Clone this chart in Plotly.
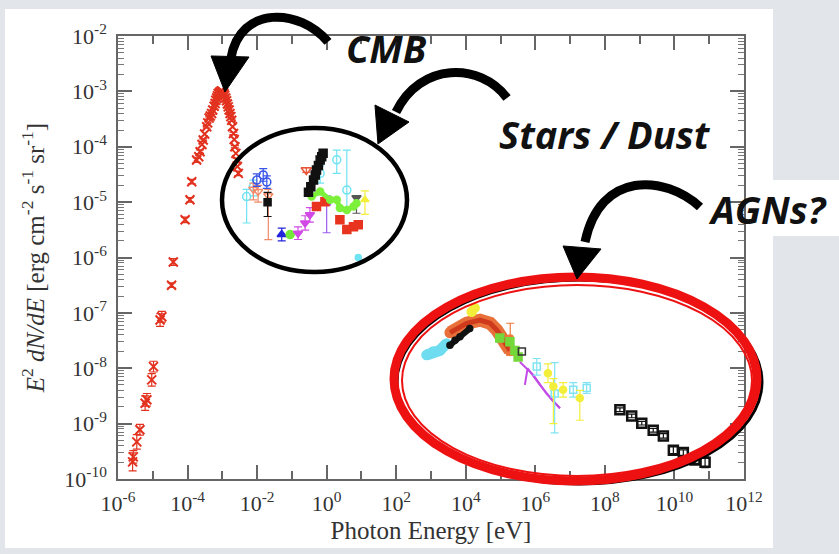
import numpy as np
import plotly.graph_objects as go

# ---------------- data: E (eV) and E^2 dN/dE (erg cm^-2 s^-1 sr^-1) ----------------
# Cosmic microwave background
cmb_E = [2.63e-6, 2.75e-6, 3.47e-6, 4.27e-6, 6.03e-6, 6.76e-6, 9.33e-6, 1.05e-5, 1.62e-5,
         1.82e-5, 3.47e-5, 3.89e-5, 8.51e-5, 1.17e-4, 1.32e-4, 1.82e-4, 2.29e-4, 2.82e-4,
         3.55e-4, 4.17e-4, 4.90e-4, 6.17e-4, 6.92e-4, 7.59e-4, 8.51e-4, 9.55e-4, 1.07e-3,
         1.17e-3, 1.32e-3, 1.48e-3, 1.66e-3, 1.86e-3, 2.09e-3, 2.29e-3, 2.57e-3, 2.88e-3]
cmb_F = [2.04e-10, 2.51e-10, 4.68e-10, 7.76e-10, 2.34e-9, 2.69e-9, 6.17e-9, 1.07e-8, 7.41e-8,
         8.51e-8, 3.16e-7, 8.32e-7, 4.79e-6, 1.10e-5, 2.34e-5, 5.75e-5, 8.13e-5, 1.32e-4,
         2.29e-4, 3.31e-4, 3.98e-4, 6.03e-4, 7.59e-4, 9.12e-4, 9.77e-4, 1.02e-3, 9.55e-4,
         8.51e-4, 6.76e-4, 5.25e-4, 3.98e-4, 3.02e-4, 1.74e-4, 1.00e-4, 5.75e-5, 3.31e-5]
cmb_rel_err = [0.45, 0.3, 0.35, 0.25, 0.35, 0.3, 0.3, 0.25, 0.3, 0.25, 0.1, 0.15, 0.12, 0.1,
               0.1, 0.1, 0.08, 0.05, 0.05, 0.05, 0.05, 0.05, 0.05, 0.05, 0.05, 0.05, 0.05,
               0.05, 0.05, 0.05, 0.05, 0.05, 0.05, 0.05, 0.08, 0.1]
# densely sampled spectrum around the peak
cmb_peak_E = [2.1e-4, 2.6e-4, 3.1e-4, 3.8e-4, 4.5e-4, 5.3e-4, 5.8e-4, 6.5e-4, 7.2e-4, 8.0e-4,
              9.0e-4, 1.0e-3, 1.12e-3, 1.25e-3, 1.4e-3, 1.57e-3, 1.76e-3, 1.97e-3, 2.2e-3,
              2.45e-3, 2.7e-3]
cmb_peak_F = [6.6e-5, 1.1e-4, 1.7e-4, 2.7e-4, 3.6e-4, 4.6e-4, 5.4e-4, 6.9e-4, 8.3e-4, 9.3e-4,
              1.0e-3, 9.9e-4, 9.1e-4, 7.6e-4, 5.9e-4, 4.6e-4, 3.5e-4, 2.3e-4, 1.35e-4,
              7.6e-5, 4.4e-5]

# Cosmic infrared / optical background
cib_blue_E, cib_blue_F = [9.8e-3, 1.5e-2, 1.9e-2], [2.5e-5, 3.1e-5, 2.3e-5]
cib_cyan_E, cib_cyan_F = [5.0e-3, 7.8e-3], [1.26e-5, 1.9e-5]
cib_cyan_lo, cib_cyan_hi = [4.2e-6, 1.3e-5], [1.7e-5, 2.5e-5]
cib_salmon_E, cib_salmon_F = [7.8e-3, 1.07e-2, 2.1e-2], [1.7e-5, 1.55e-5, 1.3e-5]
cib_salmon_lo, cib_salmon_hi = [1.1e-5, 1.0e-5, 2.1e-6], [2.2e-5, 2.0e-5, 1.7e-5]
cib_sq_E, cib_sq_F = [2.0e-2], [1.0e-5]
cib_sq_lo, cib_sq_hi = [5.5e-6], [1.5e-5]
mir_tri_E, mir_tri_F = [5.1e-2], [2.6e-6]
mir_circ_E, mir_circ_F = [8.9e-2], [2.6e-6]
nir_mag_E, nir_mag_F = [0.15, 0.24, 0.33], [2.75e-6, 4.2e-6, 5.9e-6]
nir_red_E, nir_red_F = [0.26], [3.8e-5]
nir_black_E = [0.30, 0.35, 0.42, 0.47, 0.51, 0.58, 0.65, 0.72, 0.79]
nir_black_F = [1.5e-5, 1.9e-5, 2.5e-5, 3.1e-5, 3.8e-5, 4.6e-5, 5.75e-5, 6.6e-5, 7.6e-5]
opt_cyan_E, opt_cyan_F = [0.65, 1.95, 3.8], [3.3e-5, 5.8e-5, 1.65e-5]
opt_cyan_lo, opt_cyan_hi = [2.2e-5, 3.3e-5, 8.0e-6], [4.5e-5, 8.7e-5, 8.7e-5]
opt_green_E = [0.37, 0.65, 1.26, 1.95, 2.4, 3.8, 5.9, 7.2]
opt_green_F = [1.26e-5, 1.55e-5, 1.1e-5, 1.1e-5, 7.8e-6, 7.2e-6, 8.3e-6, 9.5e-6]
opt_red_E = [0.51, 0.89, 2.4, 3.8, 5.9, 8.1]
opt_red_F = [8.3e-6, 1.02e-5, 4.8e-6, 3.2e-6, 3.6e-6, 3.9e-6]
opt_violet_E, opt_violet_F = [1.0], [9.5e-6]
opt_violet_lo, opt_violet_hi = [2.8e-6], [1.3e-5]
uv_yellow_E, uv_yellow_F = [12.6], [1.1e-5]
uv_yellow_lo, uv_yellow_hi = [6.0e-6], [1.6e-5]
uv_gray_E, uv_gray_F = [7.2], [1.2e-5]
uv_gray_lo, uv_gray_hi = [6.3e-6], [1.3e-5]
uv_dot_E, uv_dot_F = [8.1], [1.0e-6]

# Cosmic X-ray / gamma-ray background
cxb_cyan_E, cxb_cyan_F = [740, 1150, 1800, 2800], [1.74e-8, 2.0e-8, 2.1e-8, 2.8e-8]
cxb_black_E, cxb_black_F = [3500, 4900, 6800, 13000], [2.6e-8, 3.2e-8, 3.7e-8, 5.2e-8]
cxb_red_E = [3550, 10700, 25700, 50000, 78000, 120000, 186000]
cxb_red_F = [4.4e-8, 6.5e-8, 7.4e-8, 6.5e-8, 4.9e-8, 3.2e-8, 2.1e-8]
cxb_yellow_E, cxb_yellow_F = [14800, 18000], [1.05e-7, 1.23e-7]
cxb_green_E, cxb_green_F = [95000, 186000, 260000, 320000], [3.5e-8, 3.0e-8, 2.1e-8, 1.6e-8]
cxb_orange_E, cxb_orange_F = [1.9e5], [3.5e-8]
cxb_orange_lo, cxb_orange_hi = [1.7e-8], [6.5e-8]
cxb_dot_E, cxb_dot_F = [4.1e5], [2.0e-8]
mev_upper_E, mev_upper_F = [3.6e5, 8.7e5, 2.1e6, 5.1e6], [1.3e-8, 7.6e-9, 3.5e-9, 1.9e-9]
mev_lower_E = [5.0e5, 6.0e5, 1.35e6, 3.3e6, 5.1e6]
mev_lower_F = [5.0e-9, 1.0e-8, 5.0e-9, 2.5e-9, 1.9e-9]
mev_cyan_E, mev_cyan_F = [1.1e6, 3.6e6, 1.23e7, 3.0e7], [1.07e-8, 3.5e-9, 4.1e-9, 4.4e-9]
mev_cyan_lo = [7.5e-9, 6.8e-10, 3.0e-9, 3.5e-9]
mev_cyan_hi = [1.5e-8, 1.26e-8, 5.5e-9, 5.5e-9]
mev_yellow_E, mev_yellow_F = [2.3e6, 3.3e6, 6.3e6, 1.9e7], [8.1e-9, 4.7e-9, 4.1e-9, 2.9e-9]
mev_yellow_lo = [5.5e-9, 1.0e-9, 3.0e-9, 1.15e-9]
mev_yellow_hi = [1.2e-8, 6.5e-9, 5.5e-9, 4.0e-9]
fermi_E = [2.7e8, 5.9e8, 1.15e9, 2.45e9, 4.8e9, 9.3e9, 1.8e10, 3.9e10, 7.6e10]
fermi_F = [1.78e-9, 1.38e-9, 1.02e-9, 7.6e-10, 6.0e-10, 3.3e-10, 3.0e-10, 2.2e-10, 2.0e-10]
fermi_rel_err = [0.08, 0.08, 0.08, 0.08, 0.1, 0.15, 0.12, 0.15, 0.25]

x_tick_exp = [-6, -4, -2, 0, 2, 4, 6, 8, 10, 12]
y_tick_exp = [-10, -9, -8, -7, -6, -5, -4, -3, -2]

# ---------------- helpers ----------------
W, H = 839, 554
L, R, T, B = 118, 95, 36, 75


def px(x):
    return (x - L) / (W - L - R)


def py(y):
    return (H - B - y) / (H - T - B)


def bars(F, lo=None, hi=None, rel=None):
    F = np.asarray(F, float)
    if rel is not None:
        r = np.asarray(rel, float)
        return dict(type="data", array=F * r, arrayminus=F * r / (1 + r))
    return dict(type="data", array=np.asarray(hi) - F, arrayminus=F - np.asarray(lo))


fig = go.Figure()


def pts(E, F, color, symbol="circle", size=7, err=None, lw=1.5, mode="markers",
        line_width=0):
    marker = dict(symbol=symbol, size=size, color=color,
                  line=dict(width=lw, color=color))
    kw = dict(x=E, y=F, mode=mode, marker=marker, showlegend=False, hoverinfo="skip")
    if "lines" in mode:
        kw["line"] = dict(color=color, width=line_width)
    if err is not None:
        err.update(color=color, thickness=1.2, width=4)
        kw["error_y"] = err
    fig.add_trace(go.Scatter(**kw))


RED = "#e2321f"

# CMB
pts(cmb_E, cmb_F, RED, symbol="x-thin", size=9, lw=2,
    err=bars(cmb_F, rel=cmb_rel_err))
pts(cmb_peak_E, cmb_peak_F, RED, symbol="x-thin", size=9, lw=2)

# CIB / COB
pts(cib_cyan_E, cib_cyan_F, "#6fe3f2", "circle-open", 8, bars(cib_cyan_F, cib_cyan_lo, cib_cyan_hi))
pts(cib_salmon_E, cib_salmon_F, "#f28a6a", "triangle-down-open", 8,
    bars(cib_salmon_F, cib_salmon_lo, cib_salmon_hi))
pts(cib_blue_E, cib_blue_F, "#3a55e6", "circle-open", 8, bars(cib_blue_F, rel=[0.3, 0.3, 0.3]))
pts(cib_sq_E, cib_sq_F, "#111111", "square", 7, bars(cib_sq_F, cib_sq_lo, cib_sq_hi))
pts(mir_tri_E, mir_tri_F, "#2424dd", "triangle-up", 8, bars(mir_tri_F, rel=[0.3]))
pts(mir_circ_E, mir_circ_F, "#74e83a", "circle", 8)
pts(nir_mag_E, nir_mag_F, "#d24ae6", "triangle-down", 8, bars(nir_mag_F, rel=[0.3, 0.35, 0.35]))
pts(nir_red_E, nir_red_F, "#e8563a", "triangle-down-open", 9, bars(nir_red_F, rel=[0.1]))
pts(opt_cyan_E, opt_cyan_F, "#6fe3f2", "circle-open", 8, bars(opt_cyan_F, opt_cyan_lo, opt_cyan_hi))
pts(opt_violet_E, opt_violet_F, "#9a5cf0", "triangle-up", 7,
    bars(opt_violet_F, opt_violet_lo, opt_violet_hi))
pts(uv_yellow_E, uv_yellow_F, "#f2ee3a", "triangle-up", 7, bars(uv_yellow_F, uv_yellow_lo, uv_yellow_hi))
pts(uv_gray_E, uv_gray_F, "#555555", "triangle-down", 8, bars(uv_gray_F, uv_gray_lo, uv_gray_hi))
pts(uv_dot_E, uv_dot_F, "#6fe3f2", "circle", 6)
pts(opt_red_E, opt_red_F, "#e8341f", "square", 8)
pts(opt_green_E, opt_green_F, "#7cf03a", "circle", 7, mode="lines+markers", line_width=5)
pts(nir_black_E, nir_black_F, "#111111", "square", 8, mode="lines+markers", line_width=4)

# CXB / CGB
pts(cxb_cyan_E, cxb_cyan_F, "#6fdcf0", "circle", 9, mode="lines+markers", line_width=11)
pts(cxb_red_E, cxb_red_F, "#e8703a", "circle", 10, mode="lines+markers", line_width=13)
pts(cxb_red_E, cxb_red_F, "#cf3a1c", "circle", 5, mode="lines", line_width=5)
pts(cxb_black_E, cxb_black_F, "#111111", "circle", 6, mode="lines+markers", line_width=6)
pts(cxb_yellow_E, cxb_yellow_F, "#f2ee3a", "circle", 9)
pts(cxb_orange_E, cxb_orange_F, "#f07a3a", "circle", 6, bars(cxb_orange_F, cxb_orange_lo, cxb_orange_hi))
pts(cxb_green_E, cxb_green_F, "#74d83a", "square", 8)
pts(cxb_dot_E, cxb_dot_F, "#333333", "square-open", 7)
pts(mev_upper_E, mev_upper_F, "#c24ae6", mode="lines", line_width=2)
pts(mev_lower_E, mev_lower_F, "#c24ae6", mode="lines", line_width=2)
pts(mev_cyan_E, mev_cyan_F, "#7fe3f2", "square-open", 7, bars(mev_cyan_F, mev_cyan_lo, mev_cyan_hi))
pts(mev_yellow_E, mev_yellow_F, "#f2ee3a", "circle", 7, bars(mev_yellow_F, mev_yellow_lo, mev_yellow_hi))
pts(fermi_E, fermi_F, "#111111", "square-open", 9, bars(fermi_F, rel=fermi_rel_err), lw=2.5)

# ---------------- axes ----------------
SERIF = "Liberation Serif, Times New Roman, serif"
axis_font = dict(family=SERIF, size=22, color="#333333")
frame = dict(showline=True, linecolor="#666666", linewidth=1.5, mirror="allticks",
             ticks="inside", tickcolor="#666666", showgrid=False, zeroline=False,
             tickfont=axis_font)

x_minor = [10.0 ** e for e in range(-5, 12, 2)]
y_minor = [k * 10.0 ** e for e in range(-10, -2) for k in range(2, 10)]

fig.update_xaxes(type="log", range=[-6, 12], tickmode="array",
                 tickvals=[10.0 ** e for e in x_tick_exp],
                 ticktext=[f"10<sup>{e}</sup>" for e in x_tick_exp],
                 ticklen=14, tickwidth=1.5, ticklabelstandoff=4,
                 minor=dict(tickmode="array", tickvals=x_minor, ticks="inside", ticklen=8,
                            tickcolor="#666666", tickwidth=1.5),
                 title=dict(text="Photon Energy [eV]", standoff=6,
                            font=dict(family=SERIF, size=25, color="#333333")),
                 **frame)
fig.update_yaxes(type="log", range=[-10, -2], tickmode="array",
                 tickvals=[10.0 ** e for e in y_tick_exp],
                 ticktext=[f"10<sup>{e}</sup>" for e in y_tick_exp],
                 ticklen=14, tickwidth=1.5, ticklabelstandoff=5,
                 minor=dict(tickmode="array", tickvals=y_minor, ticks="inside", ticklen=6,
                            tickcolor="#777777", tickwidth=1),
                 title=dict(text="<i>E</i><sup>2</sup> <i>dN/dE</i> [erg cm<sup>-2</sup> "
                                 "s<sup>-1</sup> sr<sup>-1</sup>]", standoff=13,
                            font=dict(family=SERIF, size=25, color="#333333")),
                 **frame)

# ---------------- slide decorations ----------------
shapes = []
# white panels behind the figure and the "AGNs?" label
shapes.append(dict(type="rect", xref="paper", yref="paper", x0=px(5), x1=px(773),
                   y0=py(548), y1=py(9), fillcolor="white", line_width=0, layer="below"))
shapes.append(dict(type="rect", xref="paper", yref="paper", x0=px(773), x1=px(845),
                   y0=py(236), y1=py(180), fillcolor="white", line_width=0, layer="below"))

# black ellipse around stars / dust
shapes.append(dict(type="circle", xref="paper", yref="paper", x0=px(222), x1=px(407),
                   y0=py(272), y1=py(128), line=dict(color="black", width=4.5)))
# red double ellipse around the X-ray / gamma-ray data
shapes.append(dict(type="circle", xref="paper", yref="paper", x0=px(397), x1=px(762),
                   y0=py(484), y1=py(280), line=dict(color="black", width=3)))
shapes.append(dict(type="circle", xref="paper", yref="paper", x0=px(394), x1=px(757),
                   y0=py(481), y1=py(277), line=dict(color="#ee1111", width=9)))
shapes.append(dict(type="circle", xref="paper", yref="paper", x0=px(402), x1=px(752),
                   y0=py(476), y1=py(285), line=dict(color="#ee1111", width=2)))


def curve(p0, p1, p2, p3):
    s = "M {:.4f},{:.4f} C ".format(px(p0[0]), py(p0[1]))
    s += " ".join("{:.4f},{:.4f}".format(px(a), py(b)) for a, b in (p1, p2, p3))
    return dict(type="path", xref="paper", yref="paper", path=s,
                line=dict(color="black", width=9))


def head(a, b, tip):
    s = "M {:.4f},{:.4f} L {:.4f},{:.4f} L {:.4f},{:.4f} Z".format(
        px(a[0]), py(a[1]), px(b[0]), py(b[1]), px(tip[0]), py(tip[1]))
    return dict(type="path", xref="paper", yref="paper", path=s,
                fillcolor="black", line=dict(color="black", width=1))


shapes += [curve((328, 42), (300, 8), (240, 5), (231, 58)), head((211, 56), (249, 57), (225, 92))]
shapes += [curve((507, 98), (480, 62), (420, 62), (396, 112)), head((375, 105), (409, 122), (378, 144))]
shapes += [curve((700, 207), (665, 175), (600, 170), (585, 242)), head((563, 246), (601, 249), (577, 279))]

label_font = dict(family="Open Sans, Noto Sans, sans-serif", size=38, color="#111111",
                  weight="bold", style="italic")
annotations = [
    dict(text="CMB", x=px(386), y=py(48)),
    dict(text="Stars / Dust", x=px(605), y=py(134)),
    dict(text="AGNs?", x=px(767), y=py(209)),
]
for a in annotations:
    a.update(xref="paper", yref="paper", showarrow=False, xanchor="center", yanchor="middle",
             font=label_font)

fig.update_layout(width=W, height=H, autosize=False,
                  margin=dict(l=L, r=R, t=T, b=B, pad=0),
                  paper_bgcolor="#e2e5ea", plot_bgcolor="white",
                  shapes=shapes, annotations=annotations)

fig.write_html("out.html")
